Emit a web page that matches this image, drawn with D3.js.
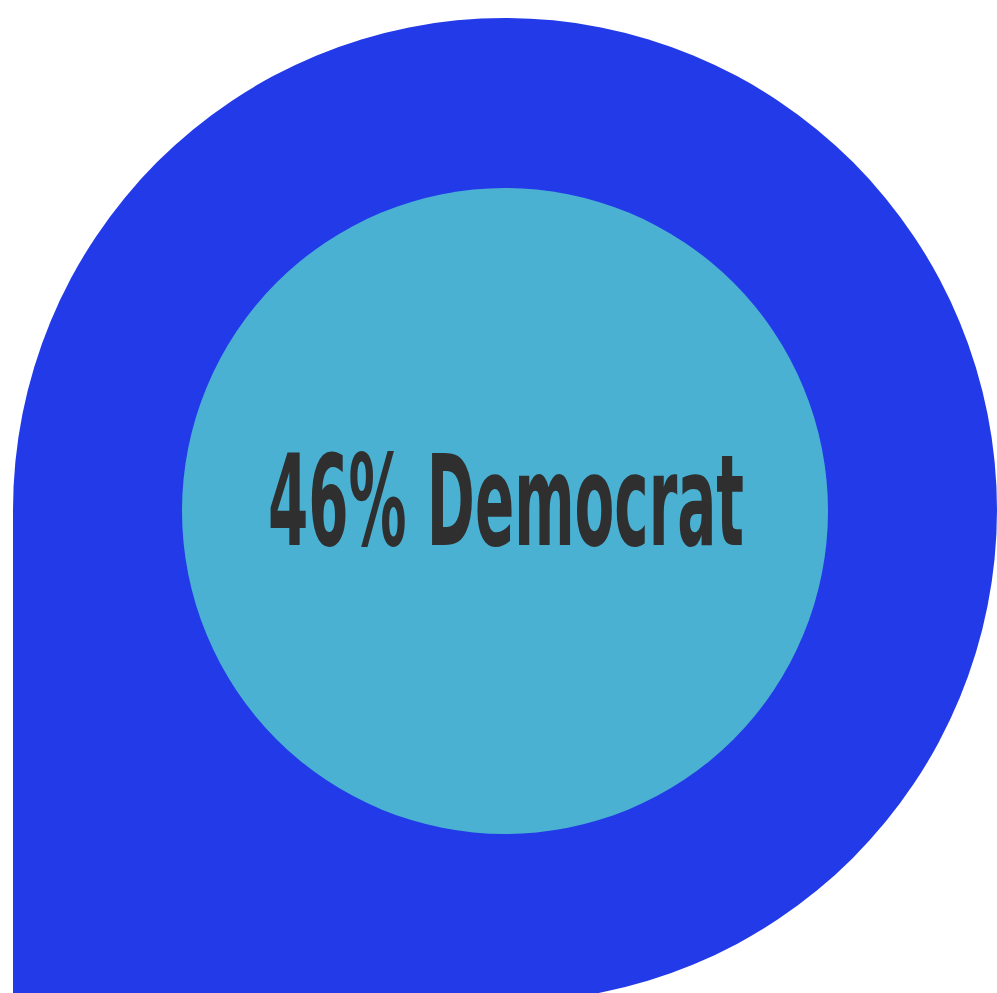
<!DOCTYPE html>
<html>
<head>
<meta charset="utf-8">
<script src="https://cdn.jsdelivr.net/npm/d3@7"></script>
<style>
  body { margin: 0; background: #fff; }
</style>
</head>
<body>
<script>
width = 997
height = 993

// data
parties = ["Democrat"]
shares = [46]

outerColor = "#223AE8"
innerColor = "#4AB1D2"
textColor = "#2F2F2F"

cx = 505
cy = 510
outerR = 492
innerR = 323

svg = d3.select("body")
    .append("svg")
    .attr("width", width)
    .attr("height", height)

// pin shape: circle with square bottom-left quadrant
p = d3.path()
p.moveTo(cx - outerR, cy)
p.arc(cx, cy, outerR, Math.PI, Math.PI / 2, false)
p.lineTo(cx - outerR, cy + outerR)
p.closePath()

svg.append("path")
    .attr("d", p.toString())
    .attr("fill", outerColor)

svg.append("circle")
    .attr("cx", cx)
    .attr("cy", cy + 1)
    .attr("r", innerR)
    .attr("fill", innerColor)

label = svg.append("text")
    .attr("font-family", "'Liberation Sans Narrow', 'DejaVu Sans Condensed', 'Liberation Sans', sans-serif")
    .attr("font-weight", "bold")
    .attr("font-size", 127)
    .attr("fill", textColor)
    .attr("text-anchor", "middle")
    .text(shares[0] + "% " + parties[0])

// squeeze to the condensed look of the original
w = label.node().getComputedTextLength()
sx = 476 / w
label.attr("transform", "translate(" + 506 + "," + 545 + ") scale(" + sx + ",1)")
</script>
</body>
</html>
